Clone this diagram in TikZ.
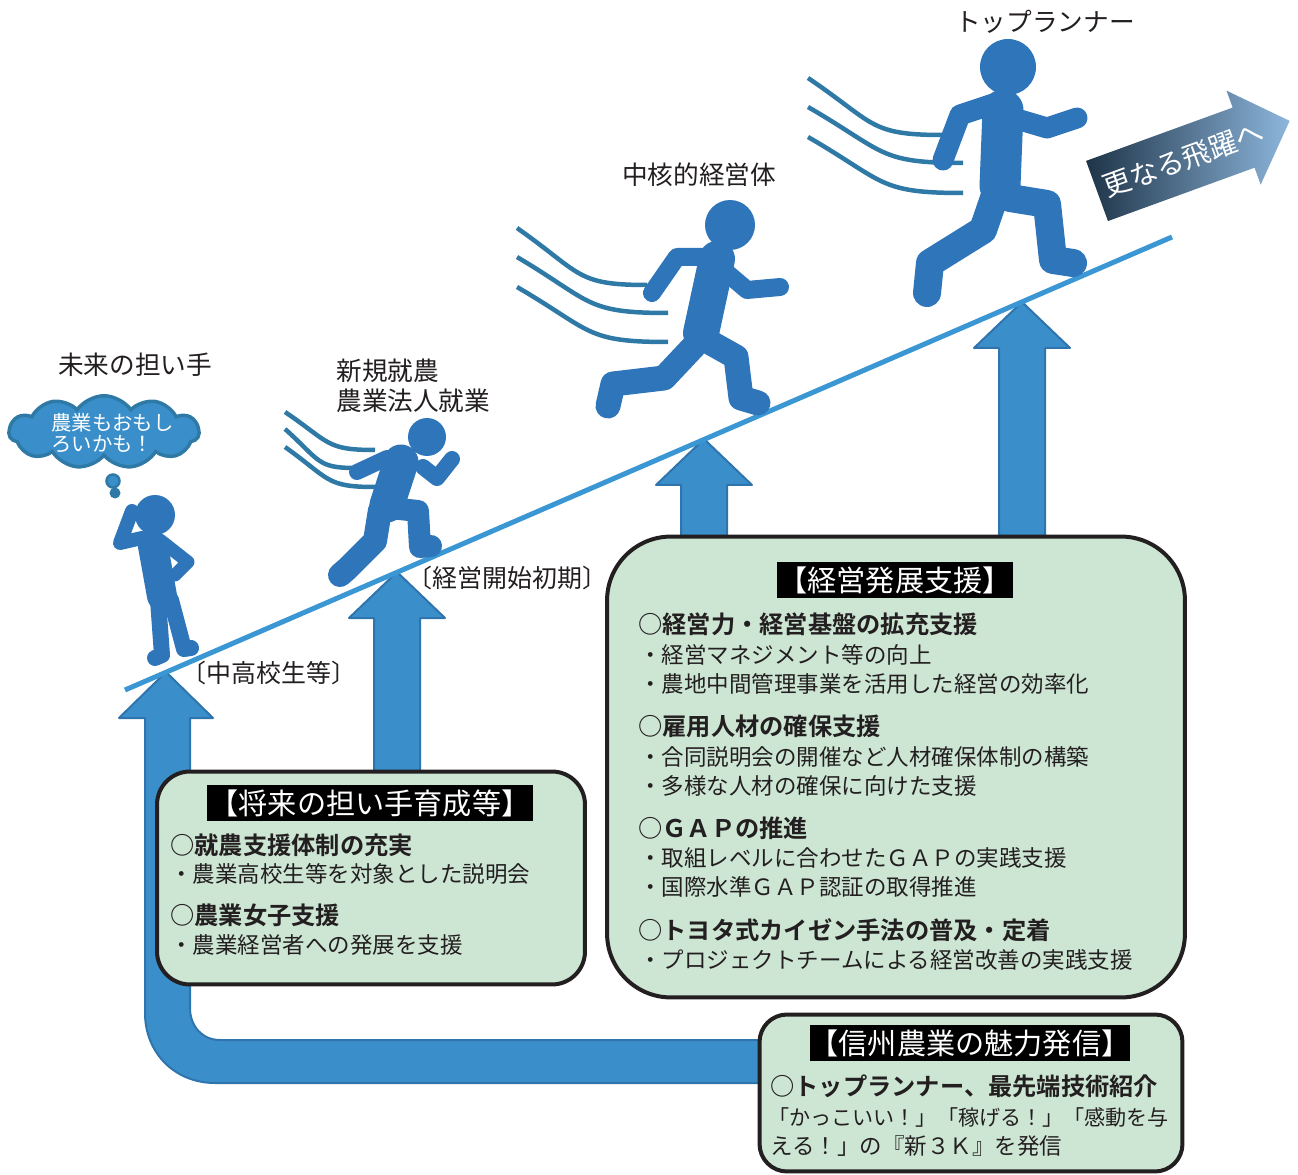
\documentclass[tikz,border=0pt]{standalone}
\usepackage{fontspec}
\setmainfont{Noto Sans CJK JP}[BoldFont={Noto Sans CJK JP Bold}]
\newfontfamily\halfjp{Noto Sans CJK JP}[RawFeature=+halt]
\usetikzlibrary{shapes.symbols}

\definecolor{ink}{HTML}{231F20}
\definecolor{arrowblue}{HTML}{3A8FCA}
\definecolor{arrowedge}{HTML}{2F74AC}
\definecolor{slopeblue}{HTML}{3B97D3}
\definecolor{runner}{HTML}{2E75B9}
\definecolor{windblue}{HTML}{2F79A6}
\definecolor{boxgreen}{HTML}{CDE6D4}
\definecolor{leapdark}{HTML}{1E3448}
\definecolor{leaplight}{HTML}{8DB6DC}

\begin{document}
\begin{tikzpicture}[x=0.02cm,y=-0.02cm]
	\tikzstyle{lbl}=[text=ink, inner sep=0pt, font=\fontsize{14.6}{16}\selectfont]
	\tikzstyle{stage}=[anchor=west, text=ink, inner sep=0pt, font=\halfjp\fontsize{14.2}{16}\selectfont]
	\tikzstyle{ttl}=[fill=black, text=white, inner sep=0pt, minimum height=0.72cm, font=\fontsize{16.6}{18}\selectfont]
	\tikzstyle{hdg}=[anchor=west, text=ink, inner sep=0pt, font=\bfseries\fontsize{13.8}{15}\selectfont]
	\tikzstyle{itm}=[anchor=west, text=ink, inner sep=0pt, font=\fontsize{12.8}{14}\selectfont]
	\tikzstyle{panel}=[draw=ink, line width=0.8mm, fill=boxgreen]
	\tikzstyle{uparrow}=[fill=arrowblue, draw=arrowedge, line width=0.4mm, line join=round]
	\tikzstyle{limb}=[draw=runner, line cap=round, line join=round]
	\tikzstyle{wind}=[draw=windblue, line width=0.9mm]
	\useasboundingbox (0,0) rectangle (1298,1175);

	% big L-shaped arrow from the bottom box up to the first step
	\path[uparrow] (166,672) -- (213,718) -- (190,718) -- (190,1008)
		.. controls (190,1026) and (202,1040) .. (220,1040) -- (775,1040) -- (775,1083) -- (215,1083)
		.. controls (175,1083) and (145,1053) .. (145,1013) -- (145,718) -- (119,718) -- cycle;
	% straight arrows up to the slope
	\foreach \cx/\ty/\by in {397/572/790, 704/439/560, 1022/302/560}
		\path[uparrow] (\cx,\ty) -- ++(48,46) -- ++(-25,0) -- (\cx+23,\by) -- (\cx-23,\by)
			-- (\cx-23,\ty+46) -- ++(-25,0) -- cycle;

	% slope
	\coordinate (low) at (125,690);
	\coordinate (high) at (1172,237);
	\draw[slopeblue, line width=1mm] (low) -- (high);

	% wind lines behind the runners
	\foreach \sx/\sy/\ex/\ey in {285/412/375/450, 285/429/355/468, 285/447/375/487,
			517/228/647/285, 517/257/668/313, 517/287/668/342,
			808/78/943/135, 808/107/963/163, 808/137/963/193}
		\draw[wind] (\sx,\sy) .. controls +({0.5*(\ex-\sx)},{0.8*(\ey-\sy)}) and +({-0.55*(\ex-\sx)},0) .. (\ex,\ey);

	% standing pupil
	\fill[runner] (155,515) circle (0.4cm);
	\draw[limb, line width=6mm] (153,546) -- (162,596);
	\draw[limb, line width=2.8mm] (142,538) -- (120,543) -- (132,511);
	\draw[limb, line width=2.6mm] (160,540) -- (188,562) -- (175,575);
	\draw[limb, line width=3.2mm] (158,600) -- (162,655) -- (155,658);
	\draw[limb, line width=3.2mm] (171,600) -- (184,649) -- (191,648);

	% new farmer
	\fill[runner] (427,437) circle (0.38cm);
	\draw[limb, line width=7mm] (401,462) -- (387,505);
	\draw[limb, line width=3.2mm] (387,458) -- (357,472);
	\draw[limb, line width=3.2mm] (423,467) -- (437,478) -- (452,459);
	\draw[limb, line width=4.8mm] (380,510) -- (375,541) -- (347,569) -- (340,575);
	\draw[limb, line width=4.4mm] (390,508) -- (418,511) -- (420,547) -- (431,546);

	% core farm manager
	\fill[runner] (730,225) circle (0.5cm);
	\draw[limb, line width=7.2mm] (717,259) -- (701,333);
	\draw[limb, line width=3.6mm] (707,257) -- (677,257) -- (652,293);
	\draw[limb, line width=3.6mm] (727,273) -- (747,290) -- (780,287);
	\draw[limb, line width=5mm] (695,345) -- (664,378) -- (613,384) -- (608,406);
	\draw[limb, line width=5mm] (711,343) -- (736,357) -- (741,398) -- (758,403);

	% top runner
	\fill[runner] (1008,67) circle (0.56cm);
	\draw[limb, line width=8.2mm] (1003,110) -- (1000,186);
	\draw[limb, line width=4.2mm] (993,104) -- (960,115) -- (943,160);
	\draw[limb, line width=4.2mm] (1020,120) -- (1047,128) -- (1077,118);
	\draw[limb, line width=5.6mm] (994,198) -- (983,230) -- (930,263) -- (927,293);
	\draw[limb, line width=5.6mm] (1010,198) -- (1047,204) -- (1053,260) -- (1073,263);

	% thought bubble
	\node[cloud, cloud puffs=11, cloud puff arc=110, aspect=2.7, fill=arrowblue, draw=windblue, line width=0.7mm,
		minimum width=3.8cm, minimum height=1.45cm, inner sep=0pt] (thought) at (104,432) {};
	\node[anchor=west, text=white, align=left, inner sep=0pt,
		font=\fontsize{11.6}{12.2}\selectfont] (thoughttext) at (51,433) {農業もおもし\\ろいかも！};
	\node[circle, fill=arrowblue, draw=windblue, line width=0.5mm, minimum size=0.26cm, inner sep=0pt] (dot1) at (113,481) {};
	\node[circle, fill=windblue, minimum size=0.22cm, inner sep=0pt] (dot2) at (115,493) {};

	% stage labels
	\node[lbl] (future) at (135,365) {未来の担い手};
	\node[lbl, anchor=west] (newfarm) at (336,371) {新規就農};
	\node[lbl, anchor=west] (corpjob) at (336,401) {農業法人就業};
	\node[lbl] (core) at (699,175) {中核的経営体};
	\node[lbl] (top) at (1045,22) {トップランナー};
	\node[stage] (pupils) at (194,673) {〔中高校生等〕};
	\node[stage] (starting) at (420,578) {〔経営開始初期〕};

	% arrow to the next leap
	\begin{scope}[shift={(1097,191)}, rotate=20]
		\path[left color=leapdark, right color=leaplight] (0,-32) -- (156,-32) -- (156,-50) -- (205,0)
			-- (156,50) -- (156,32) -- (0,32) -- cycle;
		\node[rotate=20, text=white, font=\fontsize{16}{17}\selectfont] (leap) at (92,0) {更なる飛躍へ};
	\end{scope}

	% support for young people
	\node[panel, rounded corners=0.66cm, minimum width=8.56cm, minimum height=4.26cm] (youth) at (371,878) {};
	\node[ttl, minimum width=6.52cm] (youthtitle) at (370,803) {【将来の担い手育成等】};
	\node[hdg] (y1) at (170,845) {○就農支援体制の充実};
	\node[itm] (y1a) at (170,874) {・農業高校生等を対象とした説明会};
	\node[hdg] (y2) at (170,915) {○農業女子支援};
	\node[itm] (y2a) at (170,945) {・農業経営者への発展を支援};

	% support for growing farms
	\node[panel, rounded corners=1.28cm, minimum width=11.56cm, minimum height=9.22cm] (growth) at (896,767) {};
	\node[ttl, minimum width=4.72cm] (growthtitle) at (895,580) {【経営発展支援】};
	\node[hdg] (g1) at (638,624) {○経営力・経営基盤の拡充支援};
	\node[itm] (g1a) at (639,655) {・経営マネジメント等の向上};
	\node[itm] (g1b) at (639,684) {・農地中間管理事業を活用した経営の効率化};
	\node[hdg] (g2) at (638,726) {○雇用人材の確保支援};
	\node[itm] (g2a) at (639,757) {・合同説明会の開催など人材確保体制の構築};
	\node[itm] (g2b) at (639,786) {・多様な人材の確保に向けた支援};
	\node[hdg] (g3) at (638,828) {○ＧＡＰの推進};
	\node[itm] (g3a) at (639,858) {・取組レベルに合わせたＧＡＰの実践支援};
	\node[itm] (g3b) at (639,887) {・国際水準ＧＡＰ認証の取得推進};
	\node[hdg] (g4) at (638,930) {○トヨタ式カイゼン手法の普及・定着};
	\node[itm] (g4a) at (639,960) {・プロジェクトチームによる経営改善の実践支援};

	% promotion of farming
	\node[panel, rounded corners=0.55cm, minimum width=8.46cm, minimum height=3.14cm] (promo) at (971,1093) {};
	\node[ttl, minimum width=5.88cm] (promotitle) at (970,1043) {【信州農業の魅力発信】};
	\node[hdg] (p1) at (770,1086) {○トップランナー、最先端技術紹介};
	\node[itm, font=\fontsize{12}{13}\selectfont] (p1a) at (768,1117) {「かっこいい！」「稼げる！」「感動を与};
	\node[itm] (p1b) at (770,1146) {える！」の『新３Ｋ』を発信};
\end{tikzpicture}
\end{document}
